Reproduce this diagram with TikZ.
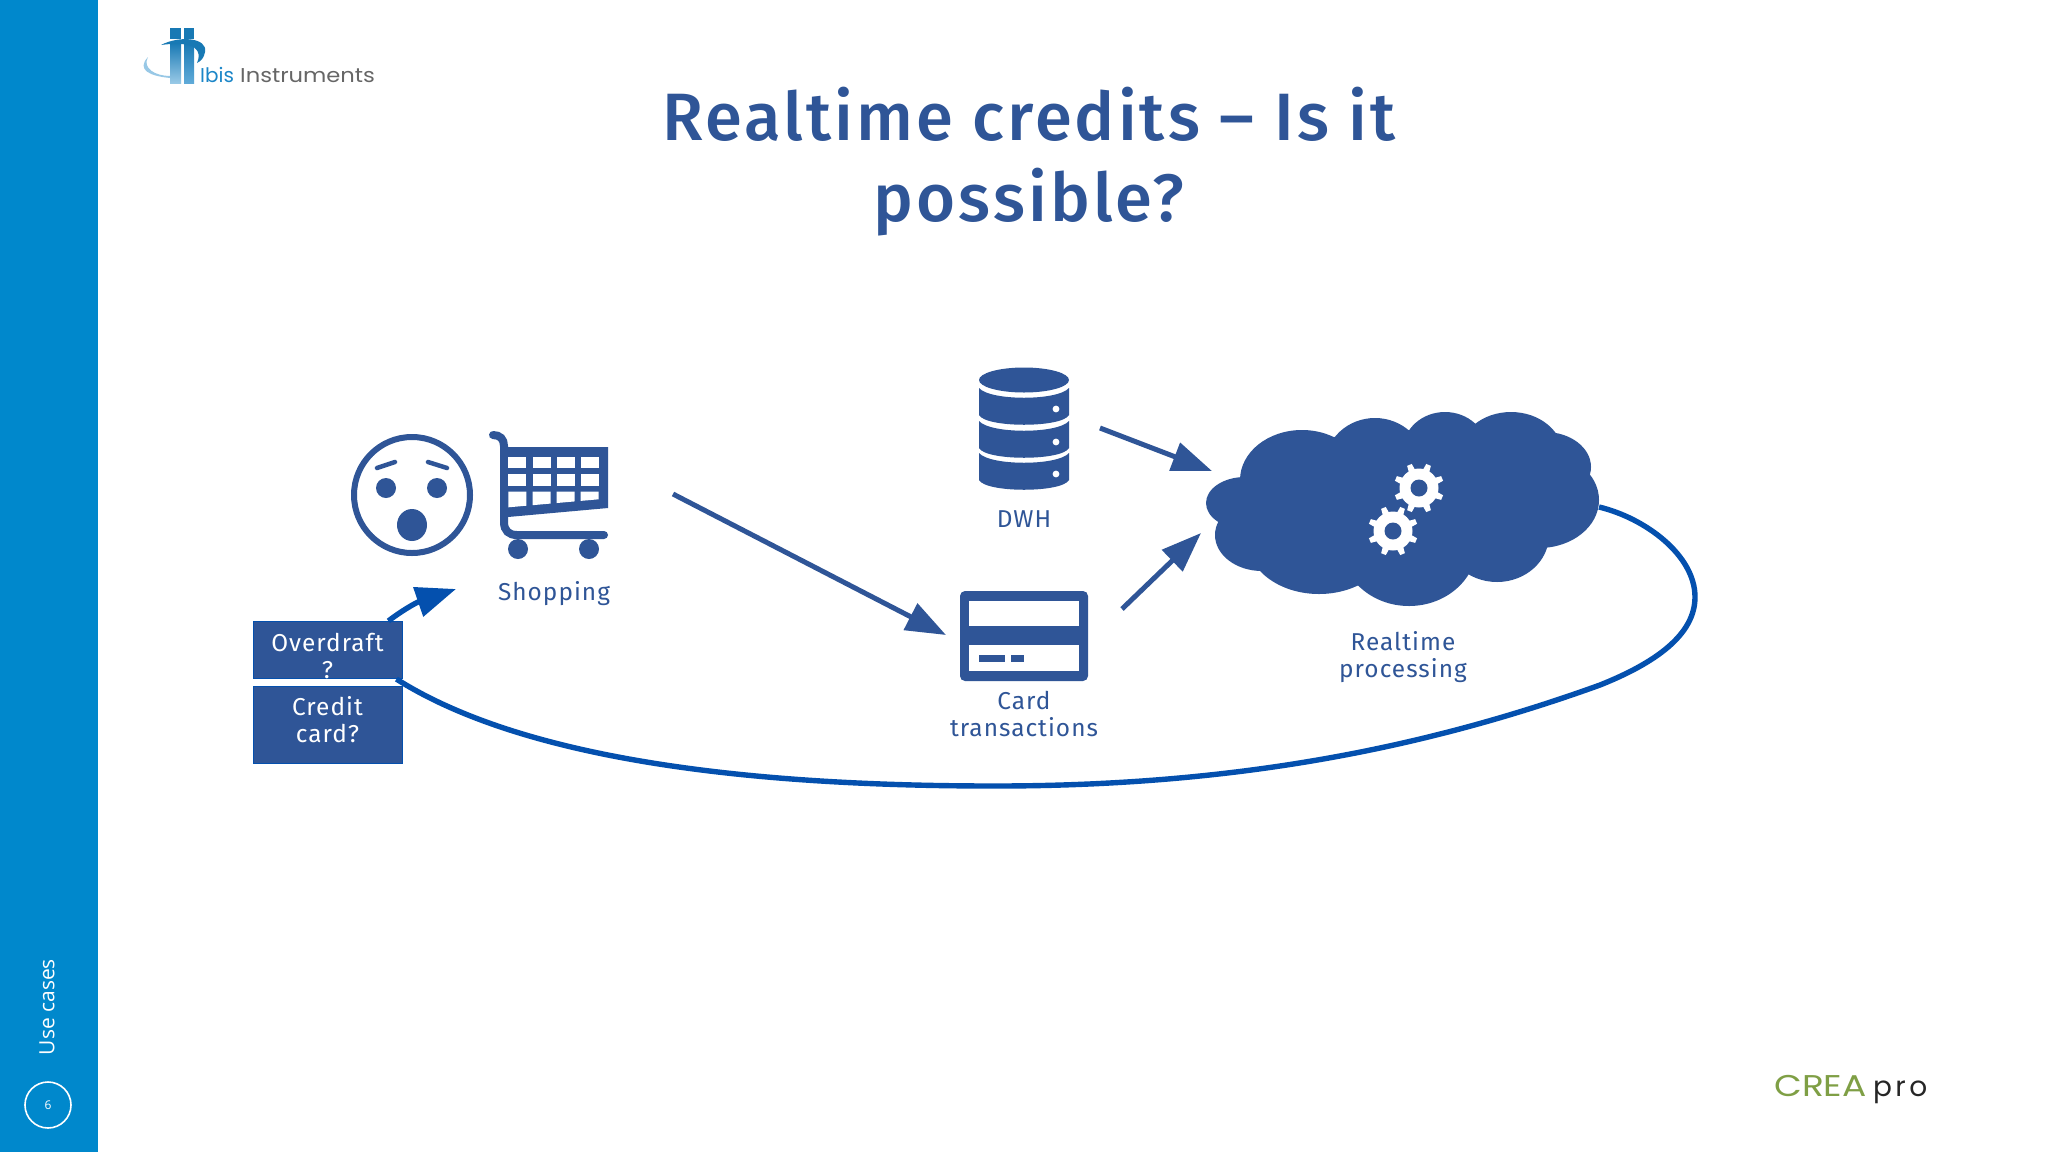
\documentclass[tikz,border=0pt]{standalone}
\usepackage{fontspec}
\setmainfont{Fira Sans}
\newfontfamily\titlefont[LetterSpace=4.5]{Fira Sans Medium}
\newfontfamily\labelfont[LetterSpace=4.2]{Fira Sans}
\newfontfamily\sidefont{Open Sans}
\newfontfamily\logofont{Poppins}
\newfontfamily\profont[LetterSpace=12]{Poppins}
\usetikzlibrary{arrows.meta}
\definecolor{iconblue}{HTML}{2F5597}
\definecolor{linkblue}{HTML}{0450AE}
\definecolor{sidebarblue}{HTML}{0088CC}
\definecolor{logoblue}{HTML}{1B86C8}
\definecolor{creagreen}{HTML}{7F9F45}

\begin{document}
\begin{tikzpicture}[x=1pt,y=-1pt]
      \tikzstyle{caption} = [text=iconblue, align=center, font=\labelfont\fontsize{24.4}{27}\selectfont]
      \tikzstyle{question} = [rectangle, minimum width=149pt, inner sep=0pt, draw=linkblue, line width=0.8pt, fill=iconblue, text=white, align=center, font=\labelfont\fontsize{24.4}{27}\selectfont]
      \tikzstyle{arrow} = [iconblue, line width=5pt, -{Triangle[length=40pt,width=29pt]}]
      \tikzstyle{link} = [linkblue, line width=5.4pt]

      \useasboundingbox (0,0) rectangle (2048,1152);
      \fill [white] (0,0) rectangle (2048,1152);

      % sidebar
      \fill [sidebarblue] (0,0) rectangle (98,1152);
      \node (section) [rotate=90, text=white, font=\sidefont\fontsize{21}{24}\selectfont] at (47,1007) {Use cases};
      \node (page) [circle, minimum size=46pt, inner sep=0pt, draw=white, line width=1.6pt, text=white, font=\sidefont\fontsize{12}{14}\selectfont] at (48,1105) {6};

      % logo
      \fill [logoblue!90!black] (170,28) rectangle (181,39);
      \fill [logoblue!90!black] (184,28) rectangle (194,39);
      \shade [top color=logoblue!90!black, bottom color=logoblue!45] (170,43) rectangle (181,83);
      \shade [top color=logoblue!90!black, bottom color=logoblue!70] (184,43) rectangle (194,83);
      \fill [logoblue!90!black] (161,45) .. controls (180,35) and (208,38) .. (205,52) .. controls (204,58) and (201,61) .. (197,63) .. controls (202,52) and (198,40) .. (161,45);
      \fill [logoblue!45] (170,78) .. controls (150,76) and (136,70) .. (148,57) .. controls (142,68) and (155,76) .. (170,76);
      \node (ibis) [anchor=base west, inner sep=0pt, text=logoblue, font=\logofont\fontsize{20}{24}\selectfont] at (200,82) {Ibis};
      \node (instruments) [anchor=base west, inner sep=0pt, xscale=1.13, text=black!60, font=\logofont\fontsize{20}{24}\selectfont] at (240,82) {Instruments};

      % title
      \node (title) [text=iconblue, align=center, font=\titlefont\fontsize{67}{81}\selectfont] at (1029,162) {Realtime credits – Is it\\possible?};

      % face
      \draw [iconblue, line width=6pt] (412,495) circle (58pt);
      \fill [iconblue] (386,488) circle (10pt);
      \fill [iconblue] (437,488) circle (10pt);
      \fill [iconblue] (412,525) ellipse [x radius=15pt, y radius=16pt];
      \draw [iconblue, line width=4.5pt, line cap=round] (377,468) -- (395,462);
      \draw [iconblue, line width=4.5pt, line cap=round] (428,462) -- (447,468);

      % cart
      \draw [iconblue, line width=8pt, line cap=round] (493,435) .. controls (500,435) and (504,439) .. (504,446) -- (504,522) .. controls (504,531) and (509,535) .. (517,535) -- (604,535);
      \fill [iconblue] (508,447) -- (608,447) -- (608,508) -- (508,517) -- cycle;
      \foreach \cx in {508.3,532.7,556.7,580.7} {
            \fill [white] (\cx,456.7) rectangle +(18,11);
            \fill [white] (\cx,474) rectangle +(18,11.7);
            \fill [white] (\cx,491.7) -- (\cx+18,491.7) -- (\cx+18,505.7-\cx*0.0887+45.1) -- (\cx,507.3-\cx*0.0887+45.1) -- cycle;
      }
      \fill [iconblue] (518,549) circle (10pt);
      \fill [iconblue] (589,549) circle (10pt);
      \node (shopping) [caption] at (554,594) {Shopping};

      % database
      \fill [iconblue] (1024,380) ellipse [x radius=45pt, y radius=12.5pt];
      \foreach \sy in {388,421,453} {
            \fill [iconblue] (979,\sy) .. controls (990,\sy+13) and (1058,\sy+13) .. (1069,\sy) -- (1069,\sy+27) .. controls (1062,\sy+40) and (986,\sy+40) .. (979,\sy+27) -- cycle;
            \fill [white] (1056,\sy+21) circle (3.4pt);
      }
      \node (dwh) [caption] at (1024,519) {DWH};

      % card
      \fill [iconblue, rounded corners=5pt] (960,591) rectangle (1088,681);
      \fill [white] (969,601) rectangle (1079,626);
      \fill [white] (969,645) rectangle (1079,671);
      \fill [iconblue] (979,655) rectangle (1005,662);
      \fill [iconblue] (1011,655) rectangle (1024,662);
      \node (card) [caption] at (1024,714) {Card\\transactions};

      % cloud
      \foreach \cx/\cy/\rx/\ry in {1302/480/62/50,1375/465/50/47,1445/450/42/38,1511/455/52/43,1545/467/46/35,1539/500/60/48,1497/535/52/47,1409/545/68/61,1319/540/72/54,1262/535/47/36,1245/503/39/26,1400/500/150/70} {
            \fill [iconblue] (\cx,\cy) ellipse [x radius=\rx pt, y radius=\ry pt];
      }
      \foreach \gx/\gy in {1419/488,1393/531} {
            \fill [white] (\gx,\gy) circle (19.5pt);
            \foreach \ga in {0,45,...,315} {
                  \fill [white, shift={(\gx,\gy)}, rotate=\ga+22.5] (-3.5,-17) -- (-2.5,-25) -- (2.5,-25) -- (3.5,-17) -- cycle;
            }
            \fill [iconblue] (\gx,\gy) circle (8.5pt);
      }
      \node (realtime) [caption] at (1403,657) {Realtime\\processing};

      % question boxes
      \node (overdraft) [question, minimum height=56pt] at (327.5,650) {\rule{0pt}{30pt}Overdraft\\?};
      \node (credit) [question, minimum height=77pt] at (327.5,724.5) {Credit\\card?\rule[-10pt]{0pt}{10pt}};

      % arrows
      \coordinate (shopout) at (673,494);
      \coordinate (cardin) at (946,635);
      \coordinate (dwhout) at (1100,428);
      \coordinate (dwhin) at (1212,471);
      \coordinate (cardout) at (1122,609);
      \coordinate (cloudin) at (1201,533);
      \coordinate (cloudout) at (1599,507);
      \coordinate (faceback) at (456,589);
      \draw [arrow] (shopout) -- (cardin);
      \draw [arrow] (dwhout) -- (dwhin);
      \draw [arrow] (cardout) -- (cloudin);
      \draw [link] ([xshift=-6pt]overdraft.south east) .. controls (540,770) and (800,786) .. (995,786) .. controls (1230,786) and (1420,750) .. (1600,685) .. controls (1655,663) and (1695,635) .. (1695,597) .. controls (1695,555) and (1645,518) .. (cloudout);
      \draw [link, -{Triangle[length=40pt,width=30pt]}] ([xshift=-14pt]overdraft.north east) .. controls (400,612) and (415,603) .. (faceback);

      % footer logo
      \node (crea) [anchor=base west, inner sep=0pt, xscale=1.2, text=creagreen, font=\logofont\fontsize{30}{34}\selectfont] at (1774,1096) {CREA};
      \node (pro) [anchor=base west, inner sep=0pt, text=black!85, font=\profont\fontsize{28}{34}\selectfont] at (1873,1096) {pro};

\end{tikzpicture}
\end{document}
